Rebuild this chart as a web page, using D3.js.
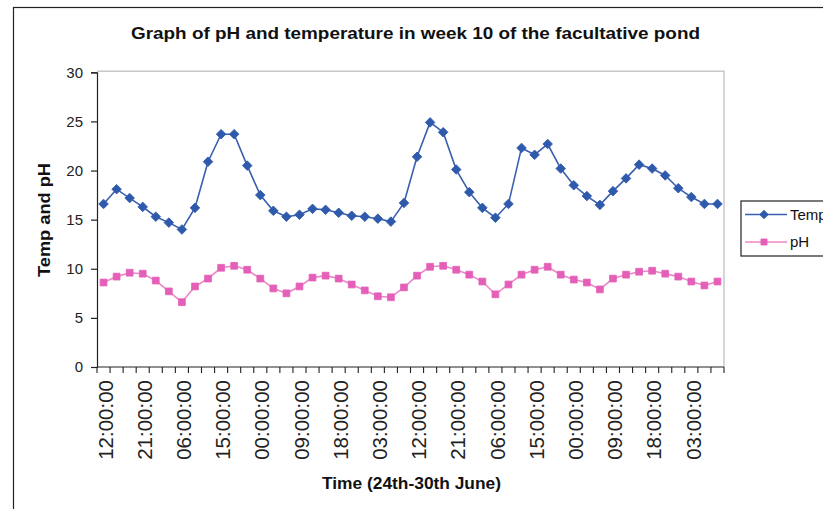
<!DOCTYPE html>
<html>
<head>
<meta charset="utf-8">
<script src="https://cdn.jsdelivr.net/npm/d3@7"></script>
<style>
  html, body { margin: 0; padding: 0; background: #fff; }
  svg { display: block; font-family: "Liberation Sans", Arial, sans-serif; }
</style>
</head>
<body>
<svg id="chart" width="823" height="509"></svg>
<script>
// Sampling times, every 3 hours from 24 June 12:00 to 30 June 09:00
const times = [
  "12:00:00","15:00:00","18:00:00","21:00:00","00:00:00","03:00:00","06:00:00","09:00:00",
  "12:00:00","15:00:00","18:00:00","21:00:00","00:00:00","03:00:00","06:00:00","09:00:00",
  "12:00:00","15:00:00","18:00:00","21:00:00","00:00:00","03:00:00","06:00:00","09:00:00",
  "12:00:00","15:00:00","18:00:00","21:00:00","00:00:00","03:00:00","06:00:00","09:00:00",
  "12:00:00","15:00:00","18:00:00","21:00:00","00:00:00","03:00:00","06:00:00","09:00:00",
  "12:00:00","15:00:00","18:00:00","21:00:00","00:00:00","03:00:00","06:00:00","09:00:00"
];

// Pond temperature (°C)
const temp = [
  16.6,18.1,17.2,16.3,15.3,14.7,14.0,16.2,20.9,23.7,
  23.7,20.5,17.5,15.9,15.3,15.5,16.1,16.0,15.7,15.4,
  15.3,15.1,14.8,16.7,21.4,24.9,23.9,20.1,17.8,16.2,
  15.2,16.6,22.3,21.6,22.7,20.2,18.5,17.4,16.5,17.9,
  19.2,20.6,20.2,19.5,18.2,17.3,16.6,16.6
];

// Pond pH
const ph = [
  8.6,9.2,9.6,9.5,8.8,7.7,6.6,8.2,9.0,10.1,
  10.3,9.9,9.0,8.0,7.5,8.2,9.1,9.3,9.0,8.4,
  7.8,7.2,7.1,8.1,9.3,10.2,10.3,9.9,9.4,8.7,
  7.4,8.4,9.4,9.9,10.2,9.4,8.9,8.6,7.9,9.0,
  9.4,9.7,9.8,9.5,9.2,8.7,8.3,8.7
];

const yTicks = [0, 5, 10, 15, 20, 25, 30];
const labelEvery = 3;

const seriesNames = ["Temp", "pH"];
const seriesData = [temp, ph];

const svg = d3.select("#chart");

const plot = { left: 97, right: 724, top: 72.3, bottom: 367 };
const idx = d3.range(times.length);

const x = d3.scaleBand().domain(idx).range([plot.left, plot.right]).padding(0);
const y = d3.scaleLinear().domain([0, 30]).range([plot.bottom, plot.top]);

// chart area frame
svg.append("rect")
  .attr("x", 13.5).attr("y", 7.5)
  .attr("width", 900).attr("height", 600)
  .attr("fill", "#fff").attr("stroke", "#222").attr("stroke-width", 1.2);

// plot area frame (top and right edges)
svg.append("path")
  .attr("d", `M${plot.left},${plot.top - 1}H${plot.right}V${plot.bottom}`)
  .attr("fill", "none").attr("stroke", "#c8c8c8").attr("stroke-width", 1.5);

// title
svg.append("text")
  .attr("x", 415.5).attr("y", 39)
  .attr("text-anchor", "middle")
  .attr("font-size", 17).attr("font-weight", "bold")
  .attr("textLength", 569).attr("lengthAdjust", "spacingAndGlyphs")
  .attr("fill", "#111")
  .text("Graph of pH and temperature in week 10 of the facultative pond");

// y axis
const yAxis = d3.axisLeft(y).tickValues(yTicks).tickSize(6).tickPadding(8);
const gy = svg.append("g").attr("transform", `translate(${plot.left},0)`).call(yAxis);
gy.select(".domain").attr("stroke", "#222").attr("stroke-width", 1.2);
gy.selectAll(".tick line").attr("stroke", "#222").attr("stroke-width", 1.2);
gy.selectAll(".tick text")
  .attr("font-size", 15).attr("fill", "#222")
  .attr("font-family", "Liberation Sans, Arial, sans-serif");

// y axis title
svg.append("text")
  .attr("transform", "translate(50,220) rotate(-90)")
  .attr("text-anchor", "middle")
  .attr("font-size", 16).attr("font-weight", "bold")
  .attr("textLength", 114).attr("lengthAdjust", "spacingAndGlyphs")
  .attr("fill", "#111")
  .text("Temp and pH");

// x axis line
svg.append("line")
  .attr("x1", plot.left).attr("x2", plot.right)
  .attr("y1", plot.bottom).attr("y2", plot.bottom)
  .attr("stroke", "#222").attr("stroke-width", 1.2);

// tick marks between categories
const boundaries = d3.range(times.length + 1).map(i => plot.left + i * x.step());
svg.append("g").selectAll("line").data(boundaries).join("line")
  .attr("x1", d => d).attr("x2", d => d)
  .attr("y1", plot.bottom).attr("y2", plot.bottom + 6)
  .attr("stroke", "#222").attr("stroke-width", 1.1);

// category labels, every third sample
const labelIdx = idx.filter(i => i % labelEvery === 0);
const xAxis = d3.axisBottom(x).tickValues(labelIdx).tickSize(0).tickFormat(i => times[i]);
const gx = svg.append("g").attr("transform", `translate(0,${plot.bottom})`).call(xAxis);
gx.select(".domain").remove();
gx.selectAll(".tick text")
  .attr("transform", "rotate(-90)")
  .attr("text-anchor", "end")
  .attr("x", -13).attr("y", 0).attr("dy", "0.35em").attr("dx", 0)
  .attr("font-size", 20.5).attr("fill", "#222")
  .attr("font-family", "Liberation Sans, Arial, sans-serif");
gx.selectAll(".tick").attr("transform", d => `translate(${x(d) + x.bandwidth() / 2 + 2},0)`);

// x axis title
svg.append("text")
  .attr("x", 411.5).attr("y", 489)
  .attr("text-anchor", "middle")
  .attr("font-size", 16).attr("font-weight", "bold")
  .attr("textLength", 179).attr("lengthAdjust", "spacingAndGlyphs")
  .attr("fill", "#111")
  .text("Time (24th-30th June)");

const cx = i => x(i) + x.bandwidth() / 2;
// diamonds are squares turned 45 degrees
const styles = [
  { line: "#3a5fae", fill: "#2f5aab", shape: d3.symbolSquare, size: 46, rot: 45 },
  { line: "#ec86c8", fill: "#e45fb7", shape: d3.symbolSquare, size: 46, rot: 0 }
];

seriesData.forEach((vals, s) => {
  const st = styles[s];
  const line = d3.line().x((d, i) => cx(i)).y(d => y(d));
  svg.append("path").datum(vals)
    .attr("d", line)
    .attr("fill", "none").attr("stroke", st.line).attr("stroke-width", 1.6);
  svg.append("g").selectAll("path").data(vals).join("path")
    .attr("transform", (d, i) => `translate(${cx(i)},${y(d)}) rotate(${st.rot})`)
    .attr("d", d3.symbol().type(st.shape).size(st.size))
    .attr("fill", st.fill).attr("stroke", st.fill).attr("stroke-width", 0.8);
});

// legend
const lg = svg.append("g");
lg.append("rect")
  .attr("x", 741).attr("y", 201).attr("width", 120).attr("height", 55)
  .attr("fill", "#fff").attr("stroke", "#222").attr("stroke-width", 1.2);
const rowsY = [214.5, 242];
seriesNames.forEach((name, s) => {
  const st = styles[s];
  lg.append("line")
    .attr("x1", 745).attr("x2", 787).attr("y1", rowsY[s]).attr("y2", rowsY[s])
    .attr("stroke", st.line).attr("stroke-width", 1.6);
  lg.append("path")
    .attr("transform", `translate(764,${rowsY[s]}) rotate(${st.rot})`)
    .attr("d", d3.symbol().type(st.shape).size(st.size * 0.8))
    .attr("fill", st.fill).attr("stroke", st.fill).attr("stroke-width", 0.8);
  lg.append("text")
    .attr("x", 790).attr("y", rowsY[s]).attr("dy", "0.36em")
    .attr("font-size", 15).attr("fill", "#111")
    .text(name);
});
</script>
</body>
</html>
